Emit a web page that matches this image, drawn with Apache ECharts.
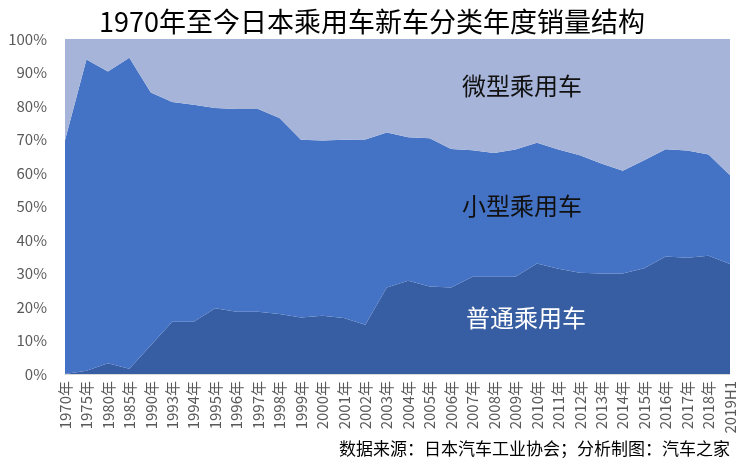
<!DOCTYPE html>
<html><head><meta charset="utf-8">
<script src="https://cdn.jsdelivr.net/npm/echarts@6/dist/echarts.min.js"></script>
<style>html,body{margin:0;padding:0;background:#fff}#c{width:744px;height:469px}</style>
</head><body><div id="c"></div>
<script>
const categories = ['1970年','1975年','1980年','1985年','1990年','1993年','1994年','1995年','1996年','1997年','1998年','1999年','2000年','2001年','2002年','2003年','2004年','2005年','2006年','2007年','2008年','2009年','2010年','2011年','2012年','2013年','2014年','2015年','2016年','2017年','2018年','2019H1'];
const putong = [0, 1, 3.2, 1.6, 8.6, 15.6, 15.6, 19.6, 18.6, 18.6, 17.9, 16.9, 17.4, 16.7, 14.7, 25.8, 27.8, 26.1, 25.8, 29, 29, 29, 33, 31.4, 30.2, 30, 30, 31.6, 35.1, 34.7, 35.3, 32.8];
const xiaoxing = [69.8, 92.9, 87.1, 92.8, 75.4, 65.6, 64.8, 59.8, 60.5, 60.5, 58.5, 53.0, 52.3, 53.2, 55.3, 46.3, 42.9, 44.3, 41.4, 37.8, 37.0, 38.0, 36.0, 35.6, 35.1, 32.8, 30.7, 32.2, 32.0, 32.0, 30.2, 26.5];
const weixing = [30.2, 6.1, 9.7, 5.6, 16.0, 18.8, 19.6, 20.6, 20.9, 20.9, 23.6, 30.1, 30.3, 30.1, 30.0, 27.9, 29.3, 29.6, 32.8, 33.2, 34.0, 33.0, 31.0, 33.0, 34.7, 37.2, 39.3, 36.2, 32.9, 33.3, 34.5, 40.7];
const seriesNames = ['普通乘用车','小型乘用车','微型乘用车'];
const yTicks = {min: 0, max: 100, interval: 10};

const F = '"Noto Sans CJK SC","Noto Sans",sans-serif';
const chart = echarts.init(document.getElementById('c'));
function area(name, data, color) {
  return {name, type: 'line', stack: 'total', data, symbol: 'none', smooth: false,
    lineStyle: {width: 0}, areaStyle: {color, opacity: 1}, itemStyle: {color}};
}
chart.setOption({
  animation: false,
  title: {text: '1970年至今日本乘用车新车分类年度销量结构', left: 'center', top: 3,
    textStyle: {fontFamily: F, fontSize: 27, fontWeight: 'normal', color: '#000'}},
  grid: {left: 65, right: 14, top: 39, bottom: 95, containLabel: false},
  xAxis: {type: 'category', data: categories, boundaryGap: false,
    axisLine: {show: true, lineStyle: {color: '#D9D9D9'}}, axisTick: {show: false},
    axisLabel: {rotate: 90, interval: 0, fontSize: 15, color: '#595959', fontFamily: F, margin: 7}},
  yAxis: {type: 'value', min: yTicks.min, max: yTicks.max, interval: yTicks.interval,
    splitLine: {show: false}, axisLine: {show: false}, axisTick: {show: false},
    axisLabel: {formatter: '{value}%', fontSize: 15, color: '#595959', fontFamily: F, margin: 18}},
  series: [
    area(seriesNames[0], putong, '#375DA2'),
    area(seriesNames[1], xiaoxing, '#4472C4'),
    area(seriesNames[2], weixing, '#A6B4D9')
  ],
  graphic: [
    {type: 'text', z: 100, left: 462, top: 74, style: {text: seriesNames[2], font: '24px ' + F, fill: '#111'}},
    {type: 'text', z: 100, left: 462, top: 194, style: {text: seriesNames[1], font: '24px ' + F, fill: '#111'}},
    {type: 'text', z: 100, left: 466, top: 306, style: {text: seriesNames[0], font: '24px ' + F, fill: '#fff'}},
    {type: 'text', z: 100, right: 14, top: 440, style: {text: '数据来源：日本汽车工业协会；分析制图：汽车之家', font: '17px ' + F, fill: '#000'}}
  ]
});
</script></body></html>
